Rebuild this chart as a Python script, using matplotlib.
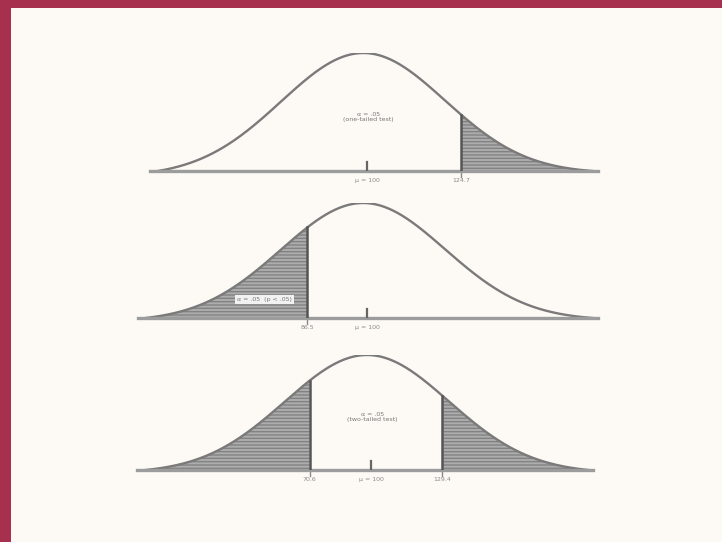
import numpy as np
import matplotlib.pyplot as plt
from matplotlib.patches import Rectangle

# three panels: one-tailed (upper), one-tailed (lower), two-tailed
baselines = [171, 318, 470]      # pixel row of the x axis line
peaks = [53, 203, 355]           # pixel row of the curve top
centers = [363, 363, 367]        # pixel column of the mean
ends = [(-2.5, 2.8), (-2.65, 2.8), (-2.7, 2.7)]   # curve extent (z units)
cuts = [[1.2], [-0.68], [-0.70, 0.92]]   # critical values (z units)
tails = [['right'], ['left'], ['left', 'right']]
mid_labels = ['\u03bc = 100', '\u03bc = 100', '\u03bc = 100']
cut_labels = [['124.7'], ['86.5'], ['70.6', '129.4']]
area_text = ['\u03b1 = .05\n(one-tailed test)', '\u03b1 = .05  (p < .05)',
             '\u03b1 = .05\n(two-tailed test)']

W, H = 722, 542
sd_px = 82.0

fig = plt.figure(figsize=(W / 100, H / 100), dpi=100)
fig.patch.set_facecolor('#a8304f')
fig.patches.append(Rectangle((11 / W, 0), 1 - 11 / W, 1 - 8 / H,
                             transform=fig.transFigure,
                             facecolor='#fdfaf5', edgecolor='none', zorder=-5))

def curve(z, lo, hi):
    # bell curve pulled down so both ends sit on the baseline
    g = np.exp(-0.5 * np.asarray(z) ** 2)
    glo, ghi = np.exp(-0.5 * lo ** 2), np.exp(-0.5 * hi ** 2)
    off = glo + (ghi - glo) * (np.asarray(z) - lo) / (hi - lo)
    top = 1 - (glo + (ghi - glo) * (0 - lo) / (hi - lo))
    return (g - off) / top

for i in range(3):
    x0, x1 = 140, 600
    ax = fig.add_axes([x0 / W, (H - baselines[i]) / H,
                       (x1 - x0) / W, (baselines[i] - peaks[i]) / H])
    ax.set_xlim((x0 - centers[i]) / sd_px, (x1 - centers[i]) / sd_px)
    ax.set_ylim(0, 1)
    ax.axis('off')

    z_lo, z_hi = ends[i]
    z = np.linspace(z_lo, z_hi, 400)
    ax.plot(z, curve(z, z_lo, z_hi), color='#7a7a7a', lw=1.7, zorder=3)
    ax.plot([z_lo - 0.1, z_hi + 0.06], [0, 0], color='#9c9c9c', lw=2.4,
            zorder=3, clip_on=False)

    for c, side in zip(cuts[i], tails[i]):
        if side == 'right':
            zz = np.linspace(c, z_hi, 200)
        else:
            zz = np.linspace(z_lo, c, 200)
        ax.fill_between(zz, 0, curve(zz, z_lo, z_hi), facecolor='#adadad',
                        edgecolor='#828282', hatch='-----', lw=0, zorder=2)
        ax.plot([c, c], [0, curve(c, z_lo, z_hi)], color='#555555', lw=1.8,
                zorder=4)
        ax.plot([c, c], [0, -0.05], color='#888888', lw=1, clip_on=False)

    # mean tick
    ax.plot([0.05, 0.05], [0, 0.08], color='#666666', lw=1.6, zorder=4)
    ax.text(0.05, -0.06, mid_labels[i], ha='center', va='top',
            fontsize=4.5, color='#8a8a8a')
    for c, lab in zip(cuts[i], cut_labels[i]):
        ax.text(c, -0.06, lab, ha='center', va='top', fontsize=4.5,
                color='#8a8a8a')

    if i == 1:
        ax.text(-1.2, 0.16, area_text[i], ha='center', va='center',
                fontsize=4.5, color='#777777', zorder=5,
                bbox=dict(facecolor='#f2f2f2', edgecolor='none', pad=1.5))
    else:
        ax.text(0.07, 0.46, area_text[i], ha='center', va='center',
                fontsize=4.5, color='#777777', linespacing=1.1)

fig.savefig('out.png', dpi=100, facecolor=fig.get_facecolor())
